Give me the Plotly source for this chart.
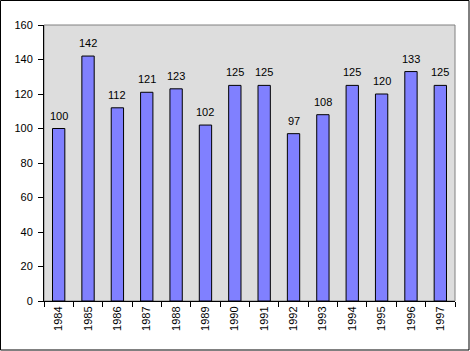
import plotly.graph_objects as go

years = ["1984", "1985", "1986", "1987", "1988", "1989", "1990",
         "1991", "1992", "1993", "1994", "1995", "1996", "1997"]
values = [100, 142, 112, 121, 123, 102, 125, 125, 97, 108, 125, 120, 133, 125]
y_ticks = [0, 20, 40, 60, 80, 100, 120, 140, 160]

L, R, T, B = 44, 15, 25, 50
W, H = 470, 351
pw, ph = W - L - R, H - T - B

fig = go.Figure()
fig.add_trace(go.Bar(
    x=years, y=values,
    marker=dict(color="#8080FF", line=dict(color="black", width=1)),
    width=0.42,
))

for i, v in enumerate(values):
    fig.add_annotation(x=i, y=v, text=str(v), showarrow=False,
                       yanchor="bottom", yshift=5,
                       font=dict(family="Liberation Sans, Arial", size=11, color="black"))

# plot area frame (gray)
fig.add_shape(type="rect", xref="paper", yref="paper", x0=0, x1=1, y0=0, y1=1,
              line=dict(color="#808080", width=1), layer="below")
# outer chart border
fig.add_shape(type="rect", xref="paper", yref="paper",
              x0=(0.5 - L) / pw, x1=(469 - L) / pw,
              y0=(H - B - 350) / ph, y1=(H - B - 0.5) / ph,
              line=dict(color="black", width=1))

fig.update_layout(
    width=W, height=H,
    margin=dict(l=L, r=R, t=T, b=B),
    paper_bgcolor="white",
    plot_bgcolor="#DDDDDD",
    showlegend=False,
    font=dict(family="Liberation Sans, Arial", size=11, color="black"),
    xaxis=dict(
        type="category", tickangle=-90, ticks="outside", ticklen=5,
        tickson="boundaries", tickcolor="black", showline=True,
        linecolor="black", linewidth=1, showgrid=False, zeroline=False,
        tickfont=dict(size=11), range=[-0.5, len(years) - 0.5],
    ),
    yaxis=dict(
        range=[0, 160], tickvals=y_ticks, ticks="outside", ticklen=5,
        tickcolor="black", showline=True, linecolor="black", linewidth=1,
        showgrid=False, zeroline=False, tickfont=dict(size=11),
        ticklabelstandoff=3,
    ),
)

fig.write_html("out.html")
